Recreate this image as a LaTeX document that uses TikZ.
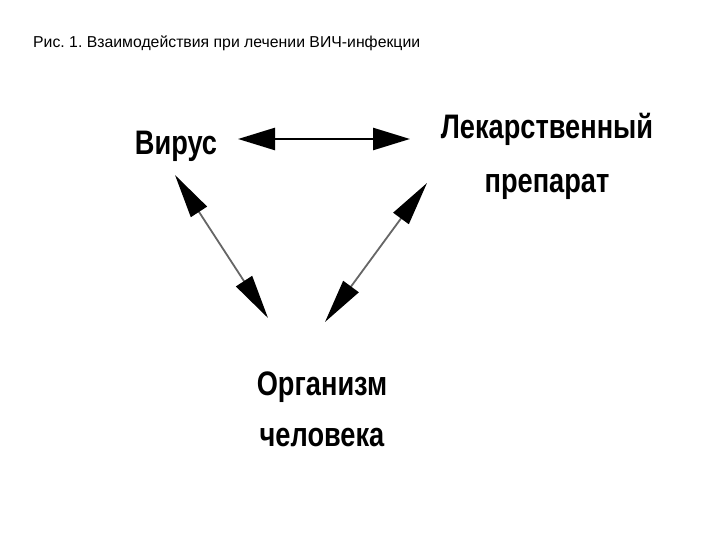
\documentclass[tikz,border=0pt]{standalone}
\usepackage{fontspec}
\setmainfont{Liberation Sans}
\newfontfamily\labelfont[FakeStretch=0.8]{Liberation Sans}
\usetikzlibrary{arrows.meta}
\frenchspacing
\begin{document}
\begin{tikzpicture}[x=1pt,y=-1pt,
	lbl/.style={anchor=base,inner sep=0pt,font=\labelfont\bfseries\fontsize{34}{40}\selectfont},
	thick arrow/.style={line width=2.5pt,{Triangle[length=37pt,width=22pt]}-{Triangle[length=37pt,width=22pt]}},
	thin arrow/.style={line width=1.8pt,draw=black!60,{Triangle[length=44pt,width=19pt,color=black]}-{Triangle[length=44pt,width=19pt,color=black]}}]
	\useasboundingbox[fill=white] (0,0) rectangle (720,540);
	\node[anchor=base west,inner sep=0pt,font=\fontsize{15.8}{18}\selectfont] (title) at (33,48) {Рис. 1. Взаимодействия при лечении ВИЧ-инфекции};
	\node[lbl] (virus) at (176,155) {Вирус};
	\node[lbl] (drug) at (547,139) {Лекарственный};
	\node[lbl] (druglow) at (547,193) {препарат};
	\node[lbl] (body) at (322,395) {Организм};
	\node[lbl] (bodylow) at (322,446) {человека};
	\coordinate (vr) at (238,139);
	\coordinate (dl) at (410,139);
	\coordinate (vb) at (175,175);
	\coordinate (bv) at (268,318);
	\coordinate (db) at (427,183);
	\coordinate (bd) at (325,322);
	\draw[thick arrow] (vr) -- (dl);
	\draw[thin arrow] (vb) -- (bv);
	\draw[thin arrow] (db) -- (bd);
\end{tikzpicture}
\end{document}
